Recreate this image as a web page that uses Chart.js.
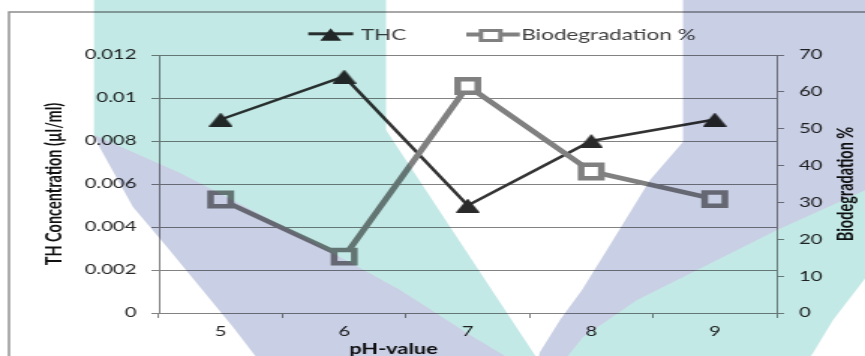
<!DOCTYPE html>
<html>
<head>
<meta charset="utf-8">
<title>THC and biodegradation vs pH</title>
<script src="https://cdn.jsdelivr.net/npm/chart.js@4/dist/chart.umd.min.js"></script>
<style>
  html, body { margin: 0; padding: 0; background: #fff; overflow: hidden; }
  /* the chart is laid out on a narrower canvas and widened horizontally */
  #stage { width: 577px; height: 356px; transform: scaleX(1.49913); transform-origin: 0 0; }
</style>
</head>
<body>
<div id="stage"><canvas id="chart" width="577" height="356"></canvas></div>
<script>
// ---- data ----
const PH_VALUES = ['5', '6', '7', '8', '9'];
const THC = [0.009, 0.011, 0.005, 0.008, 0.009];
const BIODEGRADATION = [30.8, 15.3, 61.6, 38.4, 30.9];
const CONC_TICKS = ['0', '0.002', '0.004', '0.006', '0.008', '0.01', '0.012'];
const PCT_TICKS = ['0', '10', '20', '30', '40', '50', '60', '70'];
const SERIES_NAMES = ['THC', 'Biodegradation %'];
const AXIS_TITLES = ['TH Concentration (µl/ml)', 'Biodegradation %', 'pH-value'];

// horizontal widening factor applied by the #stage transform
const STRETCH = 865 / 577;

const FAMILY = 'Lato, "DejaVu Sans", sans-serif';
const TICK_FONT = { family: FAMILY, size: 13.5 };
const TITLE_FONT = { family: FAMILY, size: 14.5, weight: 'bold' };
const AXIS_GREY = '#828282';
const THC_COLOR = '#333333';
const BIO_COLOR = '#808080';

// filled triangle marker, centred on its bounding box
function triangleMarker(w, h, color) {
  const c = document.createElement('canvas');
  c.width = w; c.height = h;
  const g = c.getContext('2d');
  g.fillStyle = color;
  g.beginPath();
  g.moveTo(0, h);
  g.lineTo(w / 2, 0);
  g.lineTo(w, h);
  g.closePath();
  g.fill();
  return c;
}
const THC_MARKER = triangleMarker(16, 14, '#2a2a2a');

// white page and the outer chart frame
const framePlugin = {
  id: 'frame',
  beforeDraw(chart) {
    const ctx = chart.ctx;
    ctx.save();
    ctx.fillStyle = '#fff';
    ctx.fillRect(0, 0, chart.width, chart.height);
    ctx.strokeStyle = '#8c8c8c';
    ctx.lineWidth = 1.4;
    ctx.beginPath();
    ctx.moveTo(6, chart.height + 5);
    ctx.lineTo(6, 12);
    ctx.lineTo(chart.width + 5, 12);
    ctx.stroke();
    ctx.restore();
  }
};

// legend row: line sample with marker, then the series name
const legendPlugin = {
  id: 'lineLegend',
  afterDraw(chart) {
    const ctx = chart.ctx;
    ctx.save();
    // THC
    ctx.strokeStyle = THC_COLOR;
    ctx.lineWidth = 3;
    ctx.beginPath();
    ctx.moveTo(205.6, 33.8);
    ctx.lineTo(235.6, 33.8);
    ctx.stroke();
    ctx.fillStyle = '#2a2a2a';
    ctx.beginPath();
    ctx.moveTo(213.6, 40.7);
    ctx.lineTo(220.6, 28.3);
    ctx.lineTo(227.6, 40.7);
    ctx.closePath();
    ctx.fill();
    // Biodegradation
    ctx.strokeStyle = BIO_COLOR;
    ctx.lineWidth = 4;
    ctx.beginPath();
    ctx.moveTo(311, 34.4);
    ctx.lineTo(346.7, 34.4);
    ctx.stroke();
    ctx.fillStyle = '#fff';
    ctx.lineWidth = 3;
    ctx.beginPath();
    ctx.rect(327.3 - 6.5, 35.5 - 5, 13, 10);
    ctx.fill();
    ctx.stroke();
    // names
    ctx.fillStyle = '#404040';
    ctx.font = '15px ' + FAMILY;
    ctx.textAlign = 'left';
    ctx.textBaseline = 'alphabetic';
    ctx.fillText(SERIES_NAMES[0], 240.7, 39.5);
    ctx.fillText(SERIES_NAMES[1], 347.8, 39.5);
    ctx.restore();
  }
};

// category axis title (set left of centre) and the right-hand axis title,
// which reads bottom-to-top like the left one
const titlesPlugin = {
  id: 'axisTitles',
  afterDraw(chart) {
    const ctx = chart.ctx;
    const area = chart.chartArea;
    ctx.save();
    ctx.fillStyle = '#111';
    ctx.font = 'bold 14.5px ' + FAMILY;
    ctx.textAlign = 'left';
    ctx.textBaseline = 'alphabetic';
    ctx.fillText(AXIS_TITLES[2], area.left + 127, 354);
    const yr = chart.scales.yPct;
    ctx.translate(yr.right - 11, (area.top + area.bottom) / 2);
    ctx.rotate(-Math.PI / 2);
    ctx.textAlign = 'center';
    ctx.textBaseline = 'middle';
    ctx.fillText(AXIS_TITLES[1], 0, 0);
    ctx.restore();
  }
};

// tinted backdrop shapes, multiplied over everything (page pixel coordinates)
const TEAL_SHAPES = [
  [[94,-5],[386,-5],[386,130],[546,372],[515,362],[470,335],[400,290],[300,235],[180,173],[94,135]],
  [[870,188],[777,230],[703,267],[637,300],[583,337],[555,372],[800,372],[813,353],[833,320],[870,272]]
];
const LAVENDER_SHAPES = [
  [[94,135],[180,173],[300,235],[400,290],[470,335],[515,362],[546,372],[546,400],[290,400],[253,353],[233,327],[200,287],[167,247],[133,207],[100,148]],
  [[683,-5],[870,-5],[870,188],[777,230],[703,267],[637,300],[583,337],[555,372],[535,372],[540,352],[560,320],[582,290],[610,245],[650,180],[683,142]]
];
const backdropPlugin = {
  id: 'backdrop',
  afterDraw(chart) {
    const ctx = chart.ctx;
    ctx.save();
    ctx.globalCompositeOperation = 'multiply';
    ctx.scale(1 / STRETCH, 1);
    const fillShapes = (shapes, color) => {
      ctx.fillStyle = color;
      shapes.forEach(poly => {
        ctx.beginPath();
        poly.forEach(([x, y], i) => (i ? ctx.lineTo(x, y) : ctx.moveTo(x, y)));
        ctx.closePath();
        ctx.fill();
      });
    };
    fillShapes(TEAL_SHAPES, '#c3e9e6');
    fillShapes(LAVENDER_SHAPES, '#c9cfe4');
    ctx.restore();
  }
};

new Chart(document.getElementById('chart'), {
  type: 'line',
  data: {
    labels: PH_VALUES,
    datasets: [
      {
        label: SERIES_NAMES[0],
        data: THC,
        yAxisID: 'yConc',
        borderColor: THC_COLOR,
        borderWidth: 2.5,
        pointStyle: THC_MARKER,
        pointRadius: 8,
        pointBackgroundColor: '#2a2a2a',
        pointBorderColor: '#2a2a2a',
        order: 1
      },
      {
        label: SERIES_NAMES[1],
        data: BIODEGRADATION,
        yAxisID: 'yPct',
        borderColor: BIO_COLOR,
        borderWidth: 4.5,
        pointStyle: 'rect',
        pointRadius: 9.5,
        pointBackgroundColor: '#ffffff',
        pointBorderColor: BIO_COLOR,
        pointBorderWidth: 4.5,
        order: 0
      }
    ]
  },
  options: {
    responsive: false,
    animation: false,
    events: [],
    layout: { padding: { left: 12, right: 2, top: 55, bottom: 0 } },
    plugins: {
      legend: { display: false },
      tooltip: { enabled: false }
    },
    scales: {
      x: {
        type: 'category',
        offset: true,
        grid: { display: true, offset: true, drawOnChartArea: false, drawTicks: true, tickLength: 5, color: AXIS_GREY },
        border: { display: true, color: AXIS_GREY, width: 1 },
        ticks: { font: TICK_FONT, color: '#262626', padding: 6, maxRotation: 0 },
        afterFit(scale) { scale.height = 43; }
      },
      yConc: {
        type: 'linear',
        position: 'left',
        min: 0,
        max: 0.012,
        ticks: {
          stepSize: 0.002,
          font: TICK_FONT,
          color: '#262626',
          padding: 10,
          callback: (v, i) => CONC_TICKS[i]
        },
        grid: { color: AXIS_GREY, lineWidth: 1, drawTicks: true, tickLength: 5 },
        border: { display: true, color: AXIS_GREY, width: 1 },
        title: { display: true, text: AXIS_TITLES[0], font: TITLE_FONT, color: '#111', padding: { top: 16, bottom: 0 } },
        afterFit(scale) { scale.width = 94; }
      },
      yPct: {
        type: 'linear',
        position: 'right',
        min: 0,
        max: 70,
        ticks: {
          stepSize: 10,
          font: TICK_FONT,
          color: '#262626',
          padding: 10,
          callback: (v, i) => PCT_TICKS[i]
        },
        grid: { drawOnChartArea: false, drawTicks: true, tickLength: 5, color: AXIS_GREY },
        border: { display: true, color: AXIS_GREY, width: 1 },
        afterFit(scale) { scale.width = 57; }
      }
    }
  },
  plugins: [framePlugin, legendPlugin, titlesPlugin, backdropPlugin]
});
</script>
</body>
</html>
